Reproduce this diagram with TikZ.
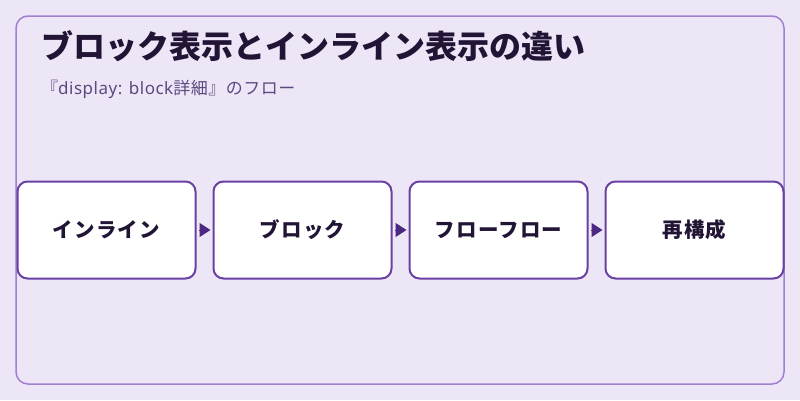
\documentclass[tikz,border=0pt]{standalone}
\usepackage{fontspec}
\setmainfont{Noto Sans CJK JP}
\newfontfamily\latinsub{Noto Sans}[LetterSpace=3]
\usetikzlibrary{arrows.meta}
\definecolor{bgc}{HTML}{EDE6F6}
\definecolor{framec}{HTML}{A07ED0}
\definecolor{boxc}{HTML}{6A40A3}
\definecolor{arrc}{HTML}{4B2882}
\definecolor{titlec}{HTML}{221435}
\definecolor{subc}{HTML}{5B4A80}
\tikzset{
  stepbox/.style={draw=boxc, line width=2pt, fill=white, rounded corners=10pt,
    minimum width=178pt, minimum height=97pt, inner sep=0pt,
    font=\fontsize{20.5}{24}\selectfont\bfseries\addfontfeature{LetterSpace=6}, text=titlec},
  flowarrow/.style={draw=arrc, line width=1pt, -{Triangle[length=11pt,width=14pt]}, arrc, shorten <=2pt, shorten >=2pt}
}
\begin{document}
\begin{tikzpicture}[x=1pt,y=-1pt]
\fill[bgc] (0,0) rectangle (800,400);
\useasboundingbox (0,0) rectangle (800,400);
\draw[framec, line width=1.5pt, rounded corners=12pt] (16,16) rectangle (784,384);
\node[anchor=west, text=titlec, font=\fontsize{32}{36}\selectfont\bfseries, inner sep=0pt] (title) at (41,46) {ブロック表示とインライン表示の違い};
\node[anchor=west, text=subc, font=\fontsize{17}{20}\selectfont\addfontfeature{LetterSpace=3}, inner sep=0pt] (sub) at (41,89) {『{\latinsub display: block}詳細』のフロー};
\node[stepbox] (b1) at (106.5,230) {\raisebox{-1pt}{インライン}};
\node[stepbox] (b2) at (302.5,230) {\raisebox{-1pt}{ブロック}};
\node[stepbox] (b3) at (498.5,230) {\raisebox{-1pt}{フローフロー}};
\node[stepbox] (b4) at (694.5,230) {\raisebox{-1pt}{再構成}};
\draw[flowarrow] (b1) -- (b2);
\draw[flowarrow] (b2) -- (b3);
\draw[flowarrow] (b3) -- (b4);
\end{tikzpicture}
\end{document}
